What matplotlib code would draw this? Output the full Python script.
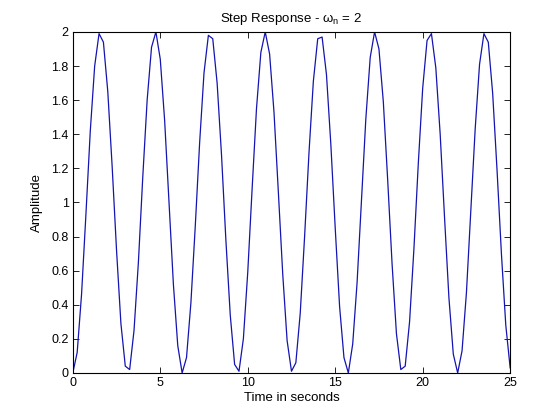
import matplotlib
matplotlib.use("Agg")
import matplotlib.pyplot as plt

time_s = [0.0, 0.25, 0.5, 0.75, 1.0, 1.25, 1.5, 1.75, 2.0, 2.25,
          2.5, 2.75, 3.0, 3.25, 3.5, 3.75, 4.0, 4.25, 4.5, 4.75,
          5.0, 5.25, 5.5, 5.75, 6.0, 6.25, 6.5, 6.75, 7.0, 7.25,
          7.5, 7.75, 8.0, 8.25, 8.5, 8.75, 9.0, 9.25, 9.5, 9.75,
          10.0, 10.25, 10.5, 10.75, 11.0, 11.25, 11.5, 11.75, 12.0, 12.25,
          12.5, 12.75, 13.0, 13.25, 13.5, 13.75, 14.0, 14.25, 14.5, 14.75,
          15.0, 15.25, 15.5, 15.75, 16.0, 16.25, 16.5, 16.75, 17.0, 17.25,
          17.5, 17.75, 18.0, 18.25, 18.5, 18.75, 19.0, 19.25, 19.5, 19.75,
          20.0, 20.25, 20.5, 20.75, 21.0, 21.25, 21.5, 21.75, 22.0, 22.25,
          22.5, 22.75, 23.0, 23.25, 23.5, 23.75, 24.0, 24.25, 24.5, 24.75,
          25.0]
amplitude = [0.00, 0.12, 0.46, 0.93, 1.42, 1.80, 1.99, 1.94, 1.65, 1.21,
             0.72, 0.29, 0.04, 0.02, 0.25, 0.65, 1.15, 1.60, 1.91, 2.00,
             1.84, 1.48, 1.00, 0.52, 0.16, 0.00, 0.09, 0.41, 0.86, 1.35,
             1.76, 1.98, 1.96, 1.70, 1.28, 0.78, 0.34, 0.05, 0.01, 0.20,
             0.59, 1.08, 1.55, 1.88, 2.00, 1.87, 1.53, 1.06, 0.58, 0.19,
             0.01, 0.06, 0.35, 0.80, 1.29, 1.71, 1.96, 1.97, 1.75, 1.34,
             0.85, 0.39, 0.09, 0.00, 0.17, 0.53, 1.01, 1.49, 1.85, 2.00,
             1.90, 1.59, 1.13, 0.64, 0.23, 0.02, 0.04, 0.30, 0.73, 1.23,
             1.67, 1.95, 1.99, 1.79, 1.40, 0.91, 0.44, 0.11, 0.00, 0.13,
             0.47, 0.95, 1.43, 1.81, 1.99, 1.94, 1.64, 1.19, 0.70, 0.28,
             0.03]

x_ticks = [0, 5, 10, 15, 20, 25]
y_ticks = [0, 0.2, 0.4, 0.6, 0.8, 1, 1.2, 1.4, 1.6, 1.8, 2]
y_tick_labels = ["0", "0.2", "0.4", "0.6", "0.8", "1", "1.2", "1.4", "1.6", "1.8", "2"]

plt.rcParams["font.family"] = ["Liberation Sans", "DejaVu Sans"]
plt.rcParams["mathtext.fontset"] = "custom"
plt.rcParams["mathtext.rm"] = "Liberation Sans"
plt.rcParams["mathtext.it"] = "Liberation Sans"

fig = plt.figure(figsize=(5.6, 4.2), dpi=100, facecolor="white")
ax = fig.add_axes([0.13, 0.112, 0.781, 0.812])

ax.plot(time_s, amplitude, color="#1414b0", linewidth=0.9)

ax.set_xlim(0, 25)
ax.set_ylim(0, 2)
ax.set_xticks(x_ticks)
ax.set_xticklabels([str(t) for t in x_ticks])
ax.set_yticks(y_ticks)
ax.set_yticklabels(y_tick_labels)

ax.tick_params(direction="in", top=True, right=True, length=4, width=0.6,
               labelsize=9, pad=3)
for s in ax.spines.values():
    s.set_linewidth(0.8)

ax.set_title(r"Step Response - $\omega_n$ = 2", fontsize=9.5, pad=7)
ax.set_xlabel("Time in seconds", fontsize=9.5, labelpad=2)
ax.set_ylabel("Amplitude", fontsize=9.5, labelpad=6)

fig.savefig("out.png", dpi=100, facecolor="white")
